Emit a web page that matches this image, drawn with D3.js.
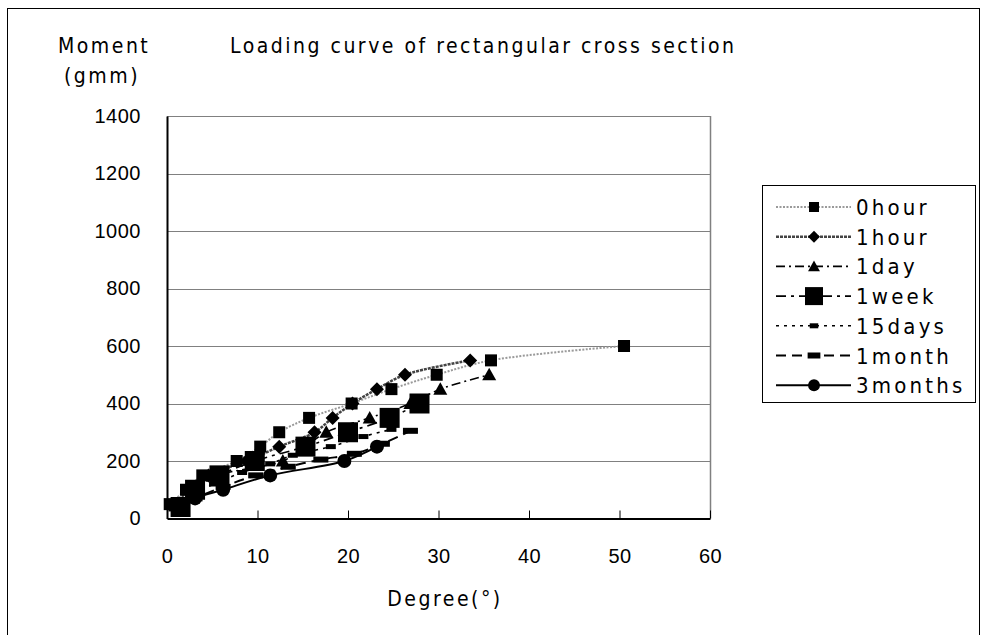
<!DOCTYPE html>
<html>
<head>
<meta charset="utf-8">
<style>
  body { margin: 0; background: #fff; }
  svg { display: block; font-family: "DejaVu Sans Condensed", "Liberation Sans", sans-serif; }
</style>
</head>
<body>
<svg width="986" height="635"></svg>
<script src="https://d3js.org/d3.v7.min.js"></script>
<script>

// series: [degree, moment]
var hour0   = [[0.3,50],[2.1,100],[3.9,150],[7.7,200],[10.3,250],[12.4,300],[15.7,350],[20.4,400],[24.8,450],[29.8,500],[35.8,550],[50.5,600]];
var hour1   = [[0.6,50],[2.6,100],[4.6,150],[8.8,200],[12.4,250],[16.3,300],[18.3,350],[20.5,400],[23.2,450],[26.3,500],[33.5,550]];
var day1    = [[1,50],[2.9,100],[5.7,150],[12.8,200],[15.3,250],[17.6,300],[22.4,350],[26.9,400],[30.2,450],[35.6,500]];
var week1   = [[1.5,40],[3.1,100],[5.8,150],[9.7,200],[15.3,250],[20,300],[24.6,350],[27.9,400]];
var days15  = [[0.8,45],[2.6,80],[5.2,120],[8.3,160],[11.4,190],[13.9,220],[18.1,250],[21.7,285],[24.8,310]];
var month1  = [[1,35],[3.1,70],[6.2,110],[9.8,150],[13.4,180],[17,205],[20.7,225],[23.8,260],[26.9,305]];
var months3 = [[1.5,40],[3.1,70],[6.2,100],[11.4,150],[19.6,200],[23.2,250]];

var seriesNames = ["0hour", "1hour", "1day", "1week", "15days", "1month", "3months"];
var xTicks = [0, 10, 20, 30, 40, 50, 60];
var yTicks = [0, 200, 400, 600, 800, 1000, 1200, 1400];

var svg = d3.select("svg");

var plotLeft = 167, plotRight = 710, plotTop = 116, plotBottom = 518.5;

var x = d3.scaleLinear().domain([0, 60]).range([plotLeft, plotRight]);
var y = d3.scaleLinear().domain([0, 1400]).range([plotBottom, plotTop]);

// look of each series
var styles = {
  "0hour":   { data: hour0,   stroke: "#9a9a9a", width: 2,   dash: "2,1.5",    marker: "square",    size: 12 },
  "1hour":   { data: hour1,   stroke: "#444",    width: 2.5, dash: "3,1",      marker: "diamond",   size: 14 },
  "1day":    { data: day1,    stroke: "#000",    width: 1.6, dash: "9,4,2,4",  marker: "triangle",  size: 14 },
  "1week":   { data: week1,   stroke: "#000",    width: 1.6, dash: "10,5,3,5", marker: "bigsquare", size: 20 },
  "15days":  { data: days15,  stroke: "#000",    width: 1.6, dash: "3,5",      marker: "dash",      size: 10 },
  "1month":  { data: month1,  stroke: "#000",    width: 2,   dash: "10,6",     marker: "bar",       size: 15 },
  "3months": { data: months3, stroke: "#000",    width: 2,   dash: null,       marker: "circle",    size: 14 }
};

// outer frame
svg.append("rect")
    .attr("x", 7.5).attr("y", 8.5)
    .attr("width", 972).attr("height", 640)
    .attr("fill", "none").attr("stroke", "#000").attr("stroke-width", 1);

// gridlines
svg.append("g")
  .selectAll("line")
  .data(yTicks.slice(1))
  .enter().append("line")
    .attr("x1", plotLeft).attr("x2", plotRight)
    .attr("y1", function(d) { return Math.round(y(d)) + 0.5; })
    .attr("y2", function(d) { return Math.round(y(d)) + 0.5; })
    .attr("stroke", "#808080").attr("stroke-width", 1);

// right border of plot
svg.append("line")
    .attr("x1", plotRight + 0.5).attr("x2", plotRight + 0.5)
    .attr("y1", plotTop).attr("y2", plotBottom)
    .attr("stroke", "#808080").attr("stroke-width", 1.5);

// axes
var xAxis = svg.append("g")
    .attr("transform", "translate(0," + plotBottom + ")")
    .call(d3.axisBottom(x).tickValues(xTicks).tickSizeInner(-8).tickSizeOuter(0).tickPadding(30));
var yAxis = svg.append("g")
    .attr("transform", "translate(" + plotLeft + ",0)")
    .call(d3.axisLeft(y).tickValues(yTicks).tickFormat(d3.format("d"))
      .tickSizeInner(0).tickSizeOuter(0).tickPadding(26));

[xAxis, yAxis].forEach(function(a) {
  a.select(".domain").attr("stroke", "#000").attr("stroke-width", 2);
  a.selectAll("line").attr("stroke", "#000");
  a.selectAll("text")
      .attr("font-family", "inherit")
      .attr("font-size", 20)
      .attr("letter-spacing", 0.5)
      .attr("fill", "#000");
});

// lines
var line = d3.line()
    .x(function(d) { return x(d[0]); })
    .y(function(d) { return y(d[1]); })
    .curve(d3.curveCatmullRom.alpha(0.5));

var plot = svg.append("g");

seriesNames.forEach(function(name) {
  var s = styles[name];
  plot.append("path")
      .datum(s.data)
      .attr("d", line)
      .attr("fill", "none")
      .attr("stroke", s.stroke)
      .attr("stroke-width", s.width)
      .attr("stroke-dasharray", s.dash);
});

function drawMarker(g, type, size) {
  var h = size / 2;
  if (type === "square" || type === "bigsquare") {
    g.append("rect").attr("x", -h).attr("y", -h)
        .attr("width", size).attr("height", size).attr("fill", "#000");
  } else if (type === "diamond") {
    g.append("path").attr("d", "M0," + (-h) + "L" + h + ",0L0," + h + "L" + (-h) + ",0Z").attr("fill", "#000");
  } else if (type === "triangle") {
    g.append("path").attr("d", "M0," + (-h) + "L" + h + "," + (h * 0.8) + "L" + (-h) + "," + (h * 0.8) + "Z").attr("fill", "#000");
  } else if (type === "dash") {
    g.append("rect").attr("x", -h).attr("y", -2.5)
        .attr("width", size).attr("height", 5).attr("fill", "#000");
  } else if (type === "bar") {
    g.append("rect").attr("x", -h).attr("y", -3)
        .attr("width", size).attr("height", 6).attr("fill", "#000");
  } else if (type === "circle") {
    g.append("circle").attr("r", h).attr("fill", "#000");
  }
}

seriesNames.forEach(function(name) {
  var s = styles[name];
  s.data.forEach(function(d) {
    var g = plot.append("g")
        .attr("transform", "translate(" + x(d[0]) + "," + y(d[1]) + ")");
    drawMarker(g, s.marker, s.size);
  });
});

// titles
function label(tx, ty, str, anchor) {
  return svg.append("text").attr("x", tx).attr("y", ty)
      .attr("font-size", 21).attr("letter-spacing", 2.5)
      .attr("text-anchor", anchor || "start")
      .text(str);
}
label(58, 53, "Moment");
label(64, 83, "(gmm)");
label(230, 53, "Loading curve of rectangular cross section");
label(445, 606, "Degree(°)", "middle");

// legend
var lg = svg.append("g");
lg.append("rect")
    .attr("x", 762.5).attr("y", 185.5)
    .attr("width", 213).attr("height", 217)
    .attr("fill", "#fff").attr("stroke", "#000").attr("stroke-width", 1);

seriesNames.forEach(function(name, i) {
  var s = styles[name];
  var cy = 207 + i * 29.7;
  lg.append("line")
      .attr("x1", 776).attr("x2", 851)
      .attr("y1", cy).attr("y2", cy)
      .attr("stroke", s.stroke)
      .attr("stroke-width", s.width)
      .attr("stroke-dasharray", s.dash);
  var g = lg.append("g").attr("transform", "translate(814," + cy + ")");
  drawMarker(g, s.marker, s.marker === "bigsquare" ? 18 : (s.marker === "square" ? 10 : s.size * 0.85));
  lg.append("text")
      .attr("x", 856).attr("y", cy + 8)
      .attr("font-size", 22)
      .attr("letter-spacing", 3.2)
      .text(name);
});

</script>
</body>
</html>
